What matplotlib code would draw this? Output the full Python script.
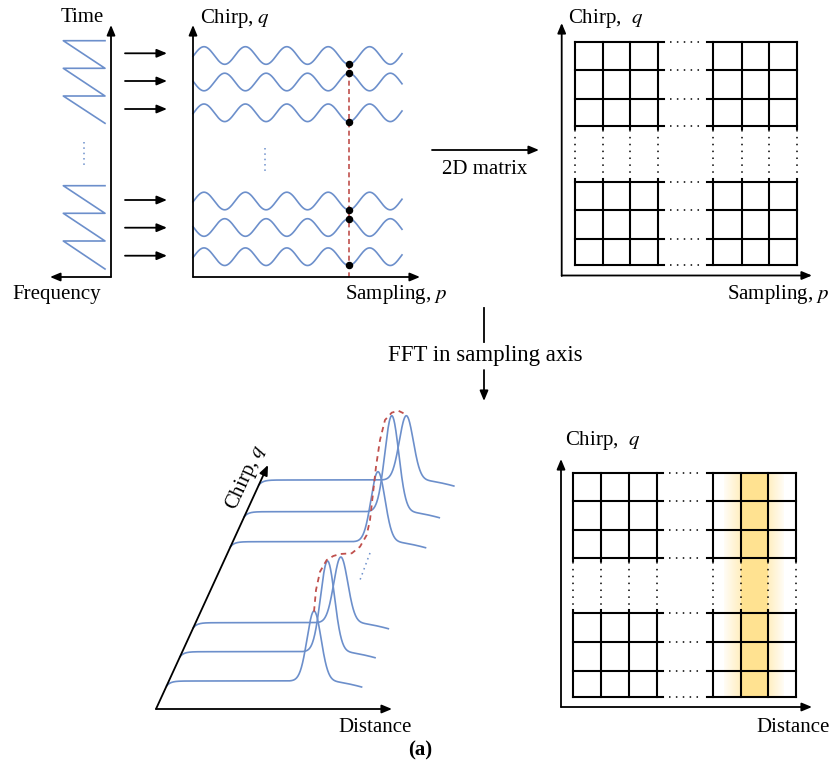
import numpy as np
import matplotlib.pyplot as plt

plt.rcParams['font.family'] = ['Liberation Serif', 'DejaVu Serif']
plt.rcParams['mathtext.fontset'] = 'stix'

W, H = 831, 775
BLUE = '#6C8FCB'
RED = '#C0504D'
FS = 15

# panel 1: chirp sawtooth (frequency vs time)
saw_tops = [[40.7, 68.3, 96.0], [185.7, 213.3, 241.0]]
saw_ends = [123.3, 269.0]
saw_left, saw_right = 63.3, 105.0

# panel 2: beat signal of each chirp
arrow_y = [53.3, 81.0, 109.0, 200.0, 227.7, 255.7]
wave_center = [55.5, 82.0, 112.8, 201.0, 227.5, 256.7]
wave_phase = [0.0, 0.5, 0.0, 0.0, 0.5, 0.0]
wave_amp = 8.8
wave_period = 41.4
wave_crest0 = 204.0
sample_x = 349.0

# 2D matrices (cell edges)
mat_cols = [[575, 602.7, 630, 658], [713.3, 741.7, 769, 797]]
mat_rows = [[42, 70, 98.7, 126], [182, 210, 239, 265]]
res_cols = [[573.3, 601, 629, 657], [712.7, 741, 768, 796]]
res_rows = [[473, 501, 530, 557.7], [613, 642, 670.7, 696.7]]

# panel 4: range profiles after FFT
trace_start_y = [686, 656.7, 627.7, 546.7, 516.7, 485]
peak_height = [70, 90.7, 65.7, 70, 96, 64.3]
envelope_x = [314, 316, 320, 326.7, 333.3, 340, 351.7, 360, 366.7, 370,
              376, 380, 385, 391.7, 398.3, 405]
envelope_y = [611.7, 590, 571.7, 560, 556, 554, 553.3, 546.7, 535, 520,
              466.7, 440, 420, 412.7, 410.7, 414]

fig = plt.figure(figsize=(W / 100, H / 100), dpi=100)
ax = fig.add_axes([0, 0, 1, 1])
ax.axis('off')


def arrow(x0, y0, x1, y1, lw=1.3):
    ax.annotate('', xy=(x1, y1), xytext=(x0, y0),
                arrowprops=dict(arrowstyle='-|>,head_length=0.6,head_width=0.25',
                                lw=lw, color='black', shrinkA=0, shrinkB=0))


def matrix(cols, rows, lw=1.5):
    for bi, bc in enumerate(cols):
        ext_l = 0 if bi == 0 else 6
        ext_r = 6 if bi == 0 else 0
        for bj, br in enumerate(rows):
            for r in br:
                ax.plot([bc[0] - ext_l, bc[-1] + ext_r], [r, r], color='black', lw=lw)
            top = br[0] - (3 if bj == 1 else 0)
            bot = br[-1] + (3 if bj == 0 else 0)
            for c in bc:
                ax.plot([c, c], [top, bot], color='black', lw=lw)
    # dotted gaps
    for br in rows:
        for r in br:
            ax.plot([cols[0][-1] + 12, cols[1][0] - 10], [r, r], color='black',
                    lw=1.1, ls=(0, (1, 3.5)))
    for bc in cols:
        for c in bc:
            ax.plot([c, c], [rows[0][-1] + 4, rows[1][0] - 4], color='black',
                    lw=1.1, ls=(0, (1, 3.5)))


# ---------- panel 1 ----------
arrow(111, 277, 111, 25)
arrow(111, 277, 50, 277)
for tops, end in zip(saw_tops, saw_ends):
    xs, ys = [saw_right], [tops[0]]
    for i, t in enumerate(tops):
        xs += [saw_left, saw_right]
        ys += [t, tops[i + 1] if i + 1 < len(tops) else end]
    ax.plot(xs, ys, color=BLUE, lw=1.2)
ax.plot([84, 84], [142, 166], color=BLUE, lw=1.1, ls=(0, (1, 2.5)))
ax.text(82, 18, 'Time', fontsize=FS, ha='center', va='center')
ax.text(57, 295, 'Frequency', fontsize=FS, ha='center', va='center')

for y in arrow_y:
    arrow(125, y, 167, y)

# ---------- panel 2 ----------
arrow(193, 277, 193, 25)
arrow(193, 277, 420, 277)
xw = np.linspace(193, 402, 600)
for c, ph in zip(wave_center, wave_phase):
    yw = c - wave_amp * np.cos(2 * np.pi * ((xw - wave_crest0) / wave_period + ph))
    ax.plot(xw, yw, color=BLUE, lw=1.2)
ax.plot([sample_x, sample_x], [64, 280], color=RED, lw=1.2, ls=(0, (3, 2)))
for c, ph in zip(wave_center, wave_phase):
    ys = c - wave_amp * np.cos(2 * np.pi * ((sample_x - wave_crest0) / wave_period + ph))
    ax.plot(sample_x, ys, 'o', color='black', ms=4.4, zorder=5)
ax.plot([265, 265], [148, 172], color=BLUE, lw=1.1, ls=(0, (1, 2.5)))
ax.text(200, 19, 'Chirp, $q$', fontsize=FS, ha='left', va='center')
ax.text(345, 295, 'Sampling, $p$', fontsize=FS, ha='left', va='center')

# ---------- 2D matrix arrow ----------
arrow(432, 150, 539, 150)
ax.text(485, 170, '2D matrix', fontsize=FS, ha='center', va='center')

# ---------- panel 3 ----------
arrow(561.7, 276, 561.7, 23)
arrow(561.7, 275.5, 812, 275.5)
matrix(mat_cols, mat_rows)
ax.text(568, 19, 'Chirp,  $q$', fontsize=FS, ha='left', va='center')
ax.text(829, 295, 'Sampling, $p$', fontsize=FS, ha='right', va='center')

# ---------- FFT arrow ----------
ax.plot([484, 484], [308, 342], color='black', lw=1.3)
arrow(484, 370, 484, 401)
ax.text(485, 356, 'FFT in sampling axis', fontsize=16.5, ha='center', va='center')

# ---------- panel 4 ----------
ox, oy, tx, ty = 156, 709, 268, 465
arrow(ox, oy, 392, oy)
arrow(ox, oy, tx, ty)
xl = np.linspace(0, 195, 500)
for s, hgt in zip(trace_start_y, peak_height):
    axx = ox + (oy - s) * (tx - ox) / (oy - ty)
    flat = s - 5
    y = (flat + 5 * np.exp(-xl / 4)
         - hgt * np.exp(-(xl - 147.5) ** 2 / (2 * 7.0 ** 2))
         + 6 * np.clip((xl - 160) / 35, 0, 1) ** 1.6)
    ax.plot(axx + xl, y, color=BLUE, lw=1.2)
ax.plot(envelope_x, envelope_y, color=RED, lw=1.3, ls=(0, (3, 2.5)))
ax.plot([370, 360], [553, 580], color=BLUE, lw=1.1, ls=(0, (1, 2.5)))
ang = np.degrees(np.arctan2(oy - ty, tx - ox))
ax.text(246, 477, 'Chirp, $q$', fontsize=FS, ha='center', va='center', rotation=ang)
ax.text(375, 727, 'Distance', fontsize=FS, ha='center', va='center')

# ---------- panel 5 ----------
arrow(561, 707, 561, 459)
arrow(561, 707, 812, 707)
band = np.zeros((1, 60, 4))
band[..., :3] = np.array([255, 226, 145]) / 255
bx = np.arange(60) + 724.5
alpha = np.where((bx >= 741) & (bx <= 768), 1.0,
                 np.where(bx < 741, 0.08 + 0.5 * (bx - 724) / 17, 0.08 + 0.5 * (784 - bx) / 16))
band[0, :, 3] = np.clip(alpha, 0, 1)
ax.imshow(band, extent=(724, 784, res_rows[1][-1], res_rows[0][0]), aspect='auto',
          interpolation='nearest', zorder=0)
matrix(res_cols, res_rows)
ax.text(565, 440, 'Chirp,  $q$', fontsize=FS, ha='left', va='center')
ax.text(830, 727, 'Distance', fontsize=FS, ha='right', va='center')

ax.text(420, 750, '(a)', fontsize=FS, ha='center', va='center', fontweight='bold')

ax.set_xlim(0, W)
ax.set_ylim(H, 0)
fig.savefig('out.png', dpi=100)
